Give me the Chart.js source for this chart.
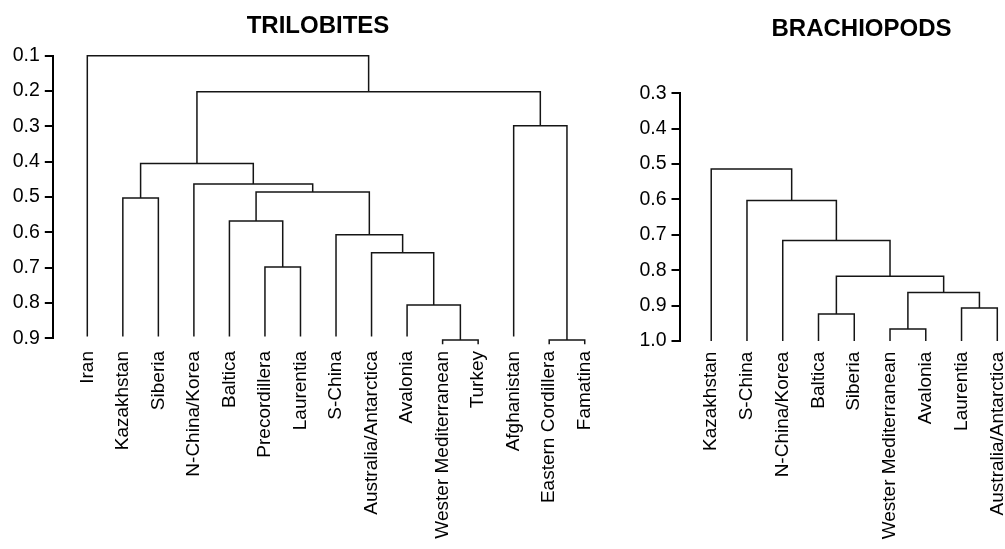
<!DOCTYPE html>
<html><head><meta charset="utf-8">
<script src="https://cdn.jsdelivr.net/npm/chart.js@4.4.1/dist/chart.umd.min.js"></script>
<style>
html,body{margin:0;padding:0;background:#fff;overflow:hidden;width:1005px;height:549px;}
canvas{position:absolute;top:0;}
#c1{left:0;}
#c2{left:600px;}
</style></head><body>
<canvas id="c1" width="636" height="549" style="width:636px;height:549px"></canvas>
<canvas id="c2" width="443" height="549" style="width:443px;height:549px"></canvas>
<script>
// ---------- DATA ----------
const trilobiteTitle = 'TRILOBITES';
const trilobiteLeaves = ['Iran','Kazakhstan','Siberia','N-China/Korea','Baltica','Precordillera','Laurentia',
  'S-China','Australia/Antarctica','Avalonia','Wester Mediterranean','Turkey','Afghanistan','Eastern Cordillera','Famatina'];
// each merge: [child A, child B, height]; a child is a leaf name or the index of an earlier merge
const trilobiteMerges = [
  ['Wester Mediterranean','Turkey',0.905],   // 0
  ['Eastern Cordillera','Famatina',0.905],   // 1
  ['Precordillera','Laurentia',0.698],       // 2
  ['Avalonia',0,0.806],                      // 3
  ['Australia/Antarctica',3,0.658],          // 4
  ['S-China',4,0.607],                       // 5
  ['Baltica',2,0.568],                       // 6
  ['Kazakhstan','Siberia',0.503],            // 7
  [6,5,0.486],                               // 8
  ['N-China/Korea',8,0.463],                 // 9
  [7,9,0.405],                               // 10
  ['Afghanistan',1,0.298],                   // 11
  [10,11,0.202],                             // 12
  ['Iran',12,0.1]                            // 13
];
const trilobiteTicks = [0.1,0.2,0.3,0.4,0.5,0.6,0.7,0.8,0.9];

const brachiopodTitle = 'BRACHIOPODS';
const brachiopodLeaves = ['Kazakhstan','S-China','N-China/Korea','Baltica','Siberia',
  'Wester Mediterranean','Avalonia','Laurentia','Australia/Antarctica'];
const brachiopodMerges = [
  ['Wester Mediterranean','Avalonia',0.966], // 0
  ['Baltica','Siberia',0.924],               // 1
  ['Laurentia','Australia/Antarctica',0.907],// 2
  [0,2,0.863],                               // 3
  [1,3,0.817],                               // 4
  ['N-China/Korea',4,0.716],                 // 5
  ['S-China',5,0.603],                       // 6
  ['Kazakhstan',6,0.514]                     // 7
];
const brachiopodTicks = [0.3,0.4,0.5,0.6,0.7,0.8,0.9,1.0];

// ---------- BUILD ----------
Chart.defaults.font.family = "'Liberation Sans', Arial, Helvetica, sans-serif";
Chart.defaults.color = '#000';

function buildLinks(leaves, merges, base, stub) {
  const nodes = [];
  const sets = [];
  merges.forEach(([a, b, h]) => {
    const pa = typeof a === 'string' ? {x: leaves.indexOf(a), h: null} : nodes[a];
    const pb = typeof b === 'string' ? {x: leaves.indexOf(b), h: null} : nodes[b];
    const ya = pa.h === null ? Math.max(base, h + stub) : pa.h;
    const yb = pb.h === null ? Math.max(base, h + stub) : pb.h;
    sets.push([{x: pa.x, y: ya}, {x: pa.x, y: h}, {x: pb.x, y: h}, {x: pb.x, y: yb}]);
    nodes.push({x: (pa.x + pb.x) / 2, h: h});
  });
  return sets;
}

function makeChart(id, title, leaves, merges, ticks, L) {
  const links = buildLinks(leaves, merges, L.base, 0.012);
  return new Chart(document.getElementById(id), {
    type: 'scatter',
    data: {
      datasets: links.map(pts => ({
        data: pts, showLine: true, borderColor: '#151515', borderWidth: 1.5,
        pointRadius: 0, pointHoverRadius: 0, fill: false, tension: 0, clip: false
      }))
    },
    options: {
      responsive: false, animation: false, events: [],
      layout: {padding: 0, autoPadding: false},
      plugins: {
        legend: {display: false}, tooltip: {enabled: false},
        title: {
          display: true, text: title, fullSize: L.fullSize, color: '#000',
          font: {size: 24, weight: 'bold'}, padding: {top: L.tTop, bottom: L.tBottom}
        }
      },
      scales: {
        x: {
          type: 'linear', min: L.xMin, max: L.xMax,
          grid: {display: false, drawTicks: false}, border: {display: false},
          afterBuildTicks: s => { s.ticks = leaves.map((_, i) => ({value: i})); },
          afterFit: s => { s.height = L.xH; },
          ticks: {
            autoSkip: false, minRotation: 90, maxRotation: 90, padding: L.lPad,
            font: {size: 19}, color: '#000',
            callback: v => leaves[v]
          }
        },
        y: {
          type: 'linear', reverse: true, min: ticks[0], max: ticks[ticks.length - 1],
          afterBuildTicks: s => { s.ticks = ticks.map(v => ({value: v})); },
          afterFit: s => { s.width = L.yW; },
          grid: {display: true, drawOnChartArea: false, drawTicks: true, tickLength: 8.5, color: '#000', lineWidth: 2},
          border: {display: true, color: '#000', width: 2},
          ticks: {padding: 5, font: {size: 19.5}, color: '#000', callback: v => Number(v).toFixed(1)}
        }
      }
    }
  });
}

makeChart('c1', trilobiteTitle, trilobiteLeaves, trilobiteMerges, trilobiteTicks, {
  base: 0.895, fullSize: true, tTop: 12.3, tBottom: 14.6,
  xMin: -0.957, xMax: 15.443, xH: 210.7, lPad: 12.7, yW: 53.3
});
makeChart('c2', brachiopodTitle, brachiopodLeaves, brachiopodMerges, brachiopodTicks, {
  base: 1.0, fullSize: false, tTop: 14.8, tBottom: 49.7,
  xMin: -0.873, xMax: 9.278, xH: 208, lPad: 10.7, yW: 80
});
</script>
</body></html>
